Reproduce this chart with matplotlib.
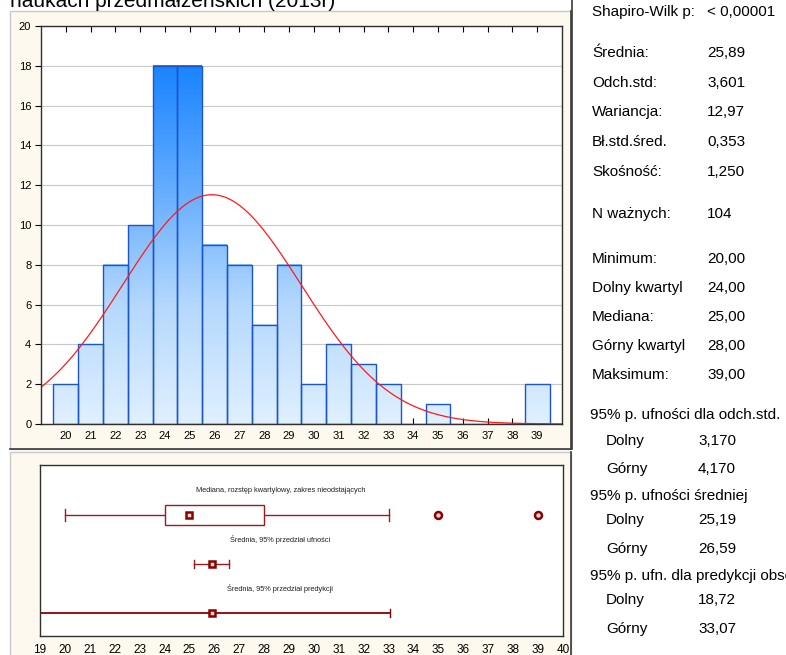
import numpy as np
import matplotlib
matplotlib.use("Agg")
import matplotlib.pyplot as plt
from matplotlib.patches import Rectangle
from matplotlib.lines import Line2D
from matplotlib.colors import LinearSegmentedColormap

plt.rcParams['font.family'] = ['Liberation Sans', 'DejaVu Sans']

# histogram data
bins = list(range(20, 40))
counts = [2, 4, 8, 10, 18, 18, 9, 8, 5, 8, 2, 4, 3, 2, 0, 1, 0, 0, 0, 2]

# summary statistics
mean = 25.89
sd = 3.601
n_valid = 104
minimum, q1, median, q3, maximum = 20.0, 24.0, 25.0, 28.0, 39.0
whisker_hi = 33.0
outliers = [35, 39]
ci_mean = (25.19, 26.59)
pred = (18.72, 33.07)

title = "naukach przedmałżeńskich (2013r)"
box_labels = ["Mediana, rozstęp kwartylowy, zakres nieodstających",
              "Średnia, 95% przedział ufności",
              "Średnia, 95% przedział predykcji"]

stats_rows = [
    ("Shapiro-Wilk p:", "< 0,00001", 12),
    ("Średnia:", "25,89", 53),
    ("Odch.std:", "3,601", 83),
    ("Wariancja:", "12,97", 112),
    ("Bł.std.śred.", "0,353", 142),
    ("Skośność:", "1,250", 172),
    ("N ważnych:", "104", 214),
    ("Minimum:", "20,00", 259),
    ("Dolny kwartyl", "24,00", 288),
    ("Mediana:", "25,00", 317),
    ("Górny kwartyl", "28,00", 346),
    ("Maksimum:", "39,00", 375),
]
ci_headers = [("95% p. ufności dla odch.std.", 415),
              ("95% p. ufności średniej", 496),
              ("95% p. ufn. dla predykcji obserwacji", 576)]
ci_rows = [("Dolny", "3,170", 441), ("Górny", "4,170", 469),
           ("Dolny", "25,19", 520), ("Górny", "26,59", 549),
           ("Dolny", "18,72", 600), ("Górny", "33,07", 629)]

W, H = 786, 655
fig = plt.figure(figsize=(W / 100, H / 100), dpi=100)
fig.patch.set_facecolor("white")


def fx(px):
    return px / W


def fy(py):
    return 1 - py / H


def panel(x0, y0, x1, y1):
    fig.add_artist(Rectangle((fx(x0), fy(y1)), fx(x1) - fx(x0), fy(y0) - fy(y1),
                             transform=fig.transFigure, facecolor="#fef9ee",
                             edgecolor="#c8c8c8", lw=1, zorder=0))
    fig.add_artist(Line2D([fx(x1), fx(x1)], [fy(y0), fy(y1)],
                          transform=fig.transFigure, color="#3a3a3a", lw=1.2))
    fig.add_artist(Line2D([fx(x0), fx(x1)], [fy(y1), fy(y1)],
                          transform=fig.transFigure, color="#3a3a3a", lw=1.2))


panel(10, 11, 571, 449)
panel(10, 452, 571, 660)

fig.text(fx(10), fy(7), title, fontsize=15, va="baseline", ha="left")

# --- histogram ---
ax = fig.add_axes([fx(41), fy(424), fx(562) - fx(41), fy(26) - fy(424)])
ax.set_facecolor("white")
cmap = LinearSegmentedColormap.from_list("bl", ["#e0f0ff", "#b4d8fd", "#62abff", "#1a84ff"])
for b, c in zip(bins, counts):
    if c > 0:
        grad = np.linspace(0, c, 200).reshape(-1, 1)
        ax.imshow(grad, cmap=cmap, vmin=0, vmax=18, extent=[b - 0.5, b + 0.5, 0, c],
                  origin="lower", aspect="auto", zorder=2)
ax.bar(bins, counts, width=1.0, fill=False, edgecolor="#1a55cc", lw=1.0, zorder=3)

xs = np.linspace(19, 40, 400)
curve = n_valid * 1.0 * np.exp(-0.5 * ((xs - mean) / sd) ** 2) / (sd * np.sqrt(2 * np.pi))
ax.plot(xs, curve, color="#ff1a1a", lw=0.9, zorder=4)

ax.set_xlim(19, 40)
ax.set_ylim(0, 20)
ax.set_xticks(bins)
ax.set_yticks(range(0, 21, 2))
ax.yaxis.grid(True, color="#c8c8c8", lw=0.8)
ax.set_axisbelow(True)
ax.tick_params(axis="x", direction="in", length=4, top=True, labelsize=8, pad=5)
ax.tick_params(axis="y", direction="out", length=4, labelsize=8, pad=3)
for s in ax.spines.values():
    s.set_color("#303030")
    s.set_linewidth(1.0)
    s.set_zorder(5)

# --- box / interval panel ---
bx = fig.add_axes([fx(40), fy(636), fx(563) - fx(40), fy(465) - fy(636)])
bx.set_facecolor("white")
bx.set_xlim(19, 40)
bx.set_ylim(3.48, -0.03)
red = "#9b1c1c"
dred = "#8b0000"

# row 1: box plot
bx.add_patch(Rectangle((q1, 1 - 0.2), q3 - q1, 0.4, facecolor="white", edgecolor=red, lw=1.0, zorder=3))
bx.plot([minimum, q1], [1, 1], color=red, lw=1.0)
bx.plot([q3, whisker_hi], [1, 1], color=red, lw=1.0)
bx.plot([minimum, minimum], [0.88, 1.12], color=red, lw=1.0)
bx.plot([whisker_hi, whisker_hi], [0.88, 1.12], color=red, lw=1.0)
bx.plot([median], [1], marker="s", ms=5, mfc="#f0d8d8", mec=dred, mew=1.8, zorder=4)
bx.plot(outliers, [1] * len(outliers), ls="none", marker="o", ms=5, mfc="#f0d8d8", mec=dred, mew=1.8)

# row 2: mean + CI
bx.plot(list(ci_mean), [2, 2], color=red, lw=1.0)
for v in ci_mean:
    bx.plot([v, v], [1.92, 2.08], color=red, lw=1.0)
bx.plot([mean], [2], marker="s", ms=5, mfc="#f0d8d8", mec=dred, mew=1.8, zorder=4)

# row 3: mean + prediction interval
bx.plot(list(pred), [3, 3], color=dred, lw=1.3)
bx.plot([pred[1], pred[1]], [2.92, 3.08], color=dred, lw=1.0)
bx.plot([mean], [3], marker="s", ms=5, mfc="#f0d8d8", mec=dred, mew=1.8, zorder=4)

for i, lab in enumerate(box_labels):
    bx.text(28.65, i + 0.5, lab, fontsize=5.3, ha="center", va="center", color="#202020")

bx.set_xticks(range(19, 41))
bx.set_yticks([])
bx.tick_params(axis="x", length=0, labelsize=8.5, pad=6)
for s in bx.spines.values():
    s.set_color("#303030")
    s.set_linewidth(1.0)

# --- statistics text ---
for lab, val, y in stats_rows:
    fig.text(fx(592), fy(y), lab, fontsize=11, va="center", ha="left")
    fig.text(fx(707), fy(y), val, fontsize=11, va="center", ha="left")
for lab, y in ci_headers:
    fig.text(fx(590), fy(y), lab, fontsize=11, va="center", ha="left")
for lab, val, y in ci_rows:
    fig.text(fx(606), fy(y), lab, fontsize=11, va="center", ha="left")
    fig.text(fx(698), fy(y), val, fontsize=11, va="center", ha="left")

fig.add_artist(Line2D([fx(572), fx(572)], [fy(0), fy(449)], transform=fig.transFigure,
                      color="#3a3a3a", lw=1.2))

fig.savefig("out.png", dpi=100)
